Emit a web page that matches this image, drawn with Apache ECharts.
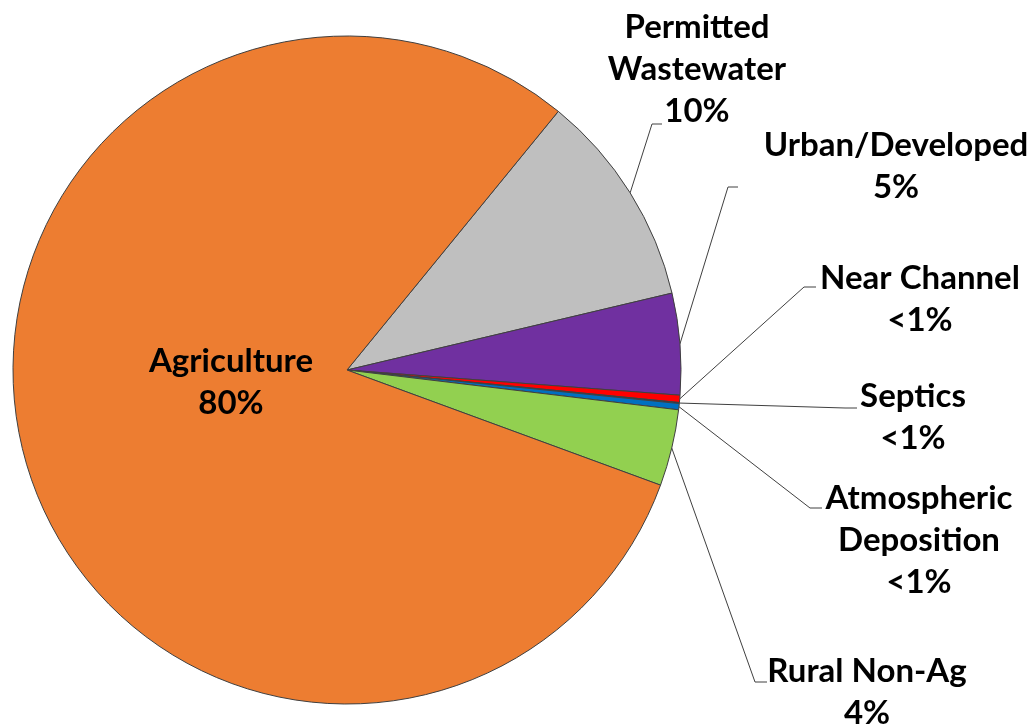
<!DOCTYPE html>
<html><head><meta charset="utf-8">
<script src="https://cdn.jsdelivr.net/npm/echarts@6/dist/echarts.min.js"></script>
<style>html,body{margin:0;padding:0;background:#fff}#c{width:1033px;height:728px}</style>
</head><body><div id="c"></div>
<script>
// ---- data ----
const categories = ['Permitted\nWastewater', 'Urban/Developed', 'Near Channel', 'Septics', 'Atmospheric\nDeposition', 'Rural Non-Ag', 'Agriculture'];
const values = [10.4, 4.9, 0.35, 0.05, 0.3, 3.7, 80.3];
const valueLabels = ['10%', '5%', '<1%', '<1%', '<1%', '4%', '80%'];
const colors = ['#BFBFBF', '#7030A0', '#FF0000', '#002060', '#0070C0', '#92D050', '#ED7D31'];

// ---- label placement (layout only) ----
const labelPos = [[697, 69], [896, 166], [920, 299], [913, 417], [919, 540], [867, 692], [231, 382]];
const lineBends = [
  [[652, 124], [662, 124]],
  [[728, 187], [738, 187]],
  [[804, 287], [816, 287]],
  [[845, 408], [857, 408]],
  [[810, 508], [822, 508]],
  [[755, 682], [767, 682]],
  null
];

const chart = echarts.init(document.getElementById('c'), null, {renderer: 'canvas'});
const data = categories.map((c, i) => ({
  name: c,
  value: values[i],
  itemStyle: {color: colors[i]},
  label: i === 6 ? {position: 'inside'} : {position: 'outside'},
  labelLine: {show: i !== 6}
}));

chart.setOption({
  backgroundColor: '#fff',
  animation: false,
  series: [{
    type: 'pie',
    center: [347, 370],
    radius: 334,
    startAngle: 50.75,
    clockwise: true,
    avoidLabelOverlap: false,
    data: data,
    itemStyle: {borderColor: '#404040', borderWidth: 1},
    label: {
      show: true,
      formatter: p => p.name + '\n' + valueLabels[p.dataIndex],
      fontFamily: 'Lato',
      fontWeight: 'bold',
      fontSize: 33,
      lineHeight: 42,
      color: '#000',
      align: 'center'
    },
    labelLine: {
      show: true,
      length: 20,
      length2: 10,
      lineStyle: {color: '#404040', width: 1}
    },
    labelLayout: function (params) {
      const i = params.dataIndex;
      const out = {x: labelPos[i][0], y: labelPos[i][1], align: 'center', verticalAlign: 'middle'};
      if (lineBends[i] && params.labelLinePoints && params.labelLinePoints.length) {
        out.labelLinePoints = [params.labelLinePoints[0], lineBends[i][0], lineBends[i][1]];
      }
      return out;
    }
  }]
});
</script>
</body></html>
